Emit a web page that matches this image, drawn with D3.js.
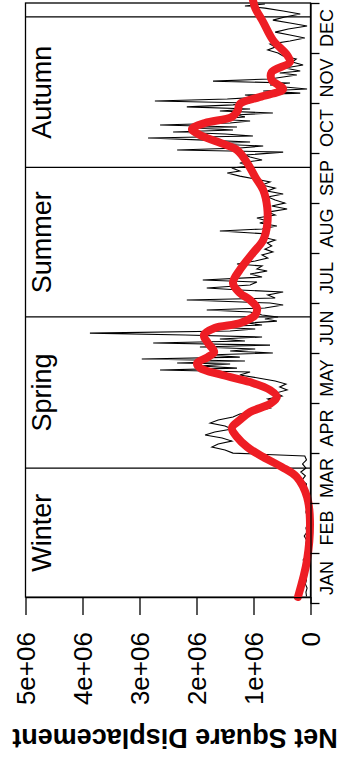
<!DOCTYPE html>
<meta charset="utf-8">
<style>
body { margin: 0; background: #fff; }
text { font-family: "Liberation Sans", Arial, sans-serif; fill: #000; }
.daily { fill: none; stroke: #000; stroke-width: 1.1px; }
.smooth { fill: none; stroke: #ee1d24; stroke-width: 8px; stroke-linecap: round; stroke-linejoin: round; }
.frame line, .frame rect { fill: none; stroke: #000; stroke-width: 1.3px; }
</style>
<body>
<script src="https://d3js.org/d3.v7.min.js"></script>
<script>

// month names along the time axis
var months = ["JAN","FEB","MAR","APR","MAY","JUN","JUL","AUG","SEP","OCT","NOV","DEC"];

// seasons and the day-of-year where each panel starts / ends
var seasons = ["Winter","Spring","Summer","Autumn"];
var seasonBreaks = [3.6, 82, 174, 265, 356.5, 365];

// NSD axis ticks
var nsdTicks = [0, 1e6, 2e6, 3e6, 4e6, 5e6];
var nsdLabels = ["0", "1e+06", "2e+06", "3e+06", "4e+06", "5e+06"];

// daily net square displacement (day of year, value in millions)
var dailyDay = [4,6.7,9.1,11.6,14,16.4,18.9,21.3,23.7,26.2,28.6,31,33.5,35.9,38.3,40.8,43.2,45.6,48.1,50.5,52.9,55.4,57.8,60.2,62.7,65.1,67.5,70,72.4,74.8,77.3,79.7,82.1,84.6,87,89.4,
  91.2,93.1,94.9,96.7,98.5,100.4,102.2,104,105.8,107.7,109.5,111.3,113.1,115,116.8,118.6,120.4,122.3,124.1,125.9,127.7,129.6,131.4,133.2,135,136.9,138.7,140.5,141.7,142.9,144.2,145.4,146,147.2,148.4,149.6,150.9,152.1,153.3,154.5,155.7,156.9,158.2,159.4,160.6,161.8,163,164.2,165.5,166.7,167.9,169.1,170.3,171.5,172.8,174,
  175.2,177,178.2,179.5,181.3,182.5,184.3,185.5,187.4,189.2,190.4,191.6,193.4,195.3,196.5,198.3,200.1,202,203.2,205,206.2,208,209.9,211.7,213.5,215.3,217.2,219,220.8,222.6,224.5,226.3,227.5,229.3,231.2,232.4,234.2,236,237.8,239.7,241.5,243.3,245.1,247,248.8,250.6,252.4,254.3,256.1,257.9,259.7,261.6,262.8,264.6,
  265.8,267.7,269.5,271.3,272.5,274.3,275.6,276.8,278,279.2,280.4,281.6,282.9,284.1,285.3,286.5,287.7,288.9,289.6,290.8,292,293.2,294.4,295.7,296.9,298.1,299.3,300.5,301.8,303,304.2,305.4,306.6,307.8,309,310.2,311.5,312.7,313.9,315.1,316.3,317.5,318.8,320,321.2,322.4,323.6,325.5,327.3,329.1,330.9,332.8,334.6,336.4,338.2,340,341.9,343.7,345.5,347.3,349.2,351,352.8,354.6,356.5,358.3,360.1,361.9,363.2,364.4];
var dailyNSD = [0.07,0.08,0.06,0.09,0.07,0.08,0.06,0.10,0.07,0.13,0.08,0.09,0.06,0.08,0.07,0.11,0.06,0.08,0.05,0.07,0.06,0.08,0.06,0.09,0.07,0.10,0.06,0.08,0.07,0.15,0.09,0.17,0.08,0.14,0.07,0.10,
  1.36,1.50,1.73,1.62,1.38,1.55,1.85,1.68,1.38,1.50,1.76,1.62,1.36,1.24,0.97,0.71,0.85,0.62,0.75,0.50,0.61,0.41,0.54,0.43,0.62,0.92,1.24,1.06,2.64,1.29,1.94,1.41,2.34,1.15,2.96,1.24,1.85,0.66,1.41,0.97,1.94,0.71,2.76,1.15,1.59,0.85,2.20,3.87,1.41,0.97,1.76,0.85,1.11,0.59,0.80,0.57,
  0.85,1.06,1.82,0.80,0.48,0.71,2.17,0.62,0.75,0.48,1.24,1.82,1.06,0.94,1.89,0.85,1.06,0.76,0.94,0.85,1.29,0.97,0.75,0.85,0.66,0.80,0.68,0.76,0.62,0.85,0.75,1.59,0.85,0.59,0.89,0.76,0.94,0.62,0.75,0.41,0.68,0.45,0.62,0.75,0.48,0.76,0.62,0.85,0.71,0.97,1.24,1.46,1.24,1.38,
  1.06,1.24,0.85,1.06,1.15,0.48,2.34,1.24,0.83,1.68,1.06,1.85,2.85,1.01,1.50,2.41,1.36,1.94,1.29,2.64,1.41,1.06,1.68,1.15,1.32,0.66,1.59,1.06,2.17,1.36,1.06,2.73,1.46,0.83,1.15,0.18,0.83,0.06,0.45,0.71,0.36,1.71,0.71,0.48,0.24,0.54,0.18,0.45,0.13,0.32,0.25,0.48,0.57,0.75,0.62,0.71,0.36,0.10,0.36,0.62,0.39,0.06,0.36,0.66,0.45,0.18,0.48,0.80,1.15,0.80];

// smoothed trend (day of year, value in millions)
var smoothDay = [3.65,26.2,50.5,64.5,76.6,82.7,88.8,94.9,101,106.5,111.3,116.2,121.1,125.3,129.6,134.4,138.7,143,146,149.6,152.7,158.2,163,167.3,170.3,175.2,179.5,184.3,188.6,194.7,202.6,212.9,220.8,229.9,240.9,251.2,259.1,267.7,275.6,280.4,284.7,288.3,292,295.7,299.3,303.6,307.8,312.7,318.1,323,329.1,333.3,342.5,353.4,362,366.8];
var smoothNSD = [0.22,0.06,0.01,0.06,0.24,0.50,0.83,1.11,1.29,1.38,1.24,1.06,0.71,0.59,0.71,1.06,1.55,1.94,1.99,1.80,1.69,1.80,1.87,1.68,1.23,0.97,0.94,1.06,1.24,1.36,1.24,1.01,0.83,0.76,0.76,0.83,0.97,1.11,1.29,1.62,1.94,2.08,1.85,1.38,1.28,1.24,0.89,0.48,0.68,0.68,0.36,0.41,0.66,0.83,0.97,1.01];

var svg = d3.select("body").append("svg")
    .attr("width", 342)
    .attr("height", 763);

// the figure is turned a quarter: time runs up the page, NSD runs right to left
var x = d3.scaleLinear().domain([0, 365]).range([603, 3]);
var y = d3.scaleLinear().domain([0, 5e6]).range([310.5, 25.5]);
var monthBand = d3.scaleBand().domain(months).range([603, 3]);

var daily = dailyDay.map(function(d, i) { return {day: d, v: dailyNSD[i] * 1e6}; });
var smooth = smoothDay.map(function(d, i) { return {day: d, v: smoothNSD[i] * 1e6}; });

// season panels
var frame = svg.append("g").attr("class", "frame");
frame.append("rect")
    .attr("x", y(5e6))
    .attr("y", x(seasonBreaks[5]))
    .attr("width", y(0) - y(5e6))
    .attr("height", x(seasonBreaks[0]) - x(seasonBreaks[5]));
frame.selectAll("line.season")
    .data(seasonBreaks.slice(1, 5))
  .enter().append("line")
    .attr("class", "season")
    .attr("x1", y(5e6)).attr("x2", y(0))
    .attr("y1", function(d) { return x(d); })
    .attr("y2", function(d) { return x(d); });

svg.selectAll("text.season")
    .data(seasons)
  .enter().append("text")
    .attr("class", "season")
    .attr("text-anchor", "middle")
    .style("font-size", "27px")
    .attr("transform", function(d, i) {
      var mid = x((seasonBreaks[i] + seasonBreaks[i + 1]) / 2);
      return "translate(51," + mid + ") rotate(-90)";
    })
    .text(function(d) { return d; });

// daily values
svg.append("path")
    .datum(daily)
    .attr("class", "daily")
    .attr("d", d3.line()
      .x(function(d) { return y(d.v); })
      .y(function(d) { return x(d.day); }));

// smoothed trend
svg.append("path")
    .datum(smooth)
    .attr("class", "smooth")
    .attr("d", d3.line()
      .curve(d3.curveCatmullRom.alpha(0.5))
      .x(function(d) { return y(d.v); })
      .y(function(d) { return x(d.day); }));

// month axis: ticks at month boundaries, labels in between
var monthAxis = svg.append("g")
    .attr("transform", "translate(" + y(0) + ",0)")
    .call(d3.axisRight(x)
      .tickValues(d3.range(13).map(function(k) { return k * 365 / 12; }))
      .tickSize(9).tickSizeOuter(0).tickFormat(""));
monthAxis.selectAll("path, line").attr("stroke-width", 1.3);

var monthLabels = svg.append("g")
    .attr("transform", "translate(" + y(0) + ",0)")
    .call(d3.axisRight(monthBand).tickSize(0));
monthLabels.select(".domain").remove();
monthLabels.selectAll("text")
    .attr("x", 0).attr("y", 0).attr("dy", null)
    .attr("text-anchor", "middle")
    .attr("transform", "translate(22,0) rotate(-90)")
    .style("font-size", "18px")
    .style("font-family", "'Liberation Sans', Arial, sans-serif")
    .attr("fill", "#000");

// NSD axis
var nsdAxis = svg.append("g")
    .attr("transform", "translate(0," + x(seasonBreaks[0]) + ")")
    .call(d3.axisBottom(y)
      .tickValues(nsdTicks)
      .tickSize(18).tickSizeOuter(0)
      .tickFormat(function(d, i) { return nsdLabels[i]; }));
nsdAxis.selectAll("path, line").attr("stroke-width", 1.3);
nsdAxis.selectAll("text")
    .attr("x", 0).attr("y", 0).attr("dy", "0.35em")
    .attr("text-anchor", "end")
    .attr("transform", "translate(0,35) rotate(-90)")
    .style("font-size", "26px")
    .style("font-family", "'Liberation Sans', Arial, sans-serif")
    .attr("fill", "#000");

svg.append("text")
    .attr("text-anchor", "middle")
    .attr("transform", "translate(175,729) rotate(180)")
    .style("font-size", "27px")
    .style("font-weight", "bold")
    .text("Net Square Displacement");

</script>
</body>
